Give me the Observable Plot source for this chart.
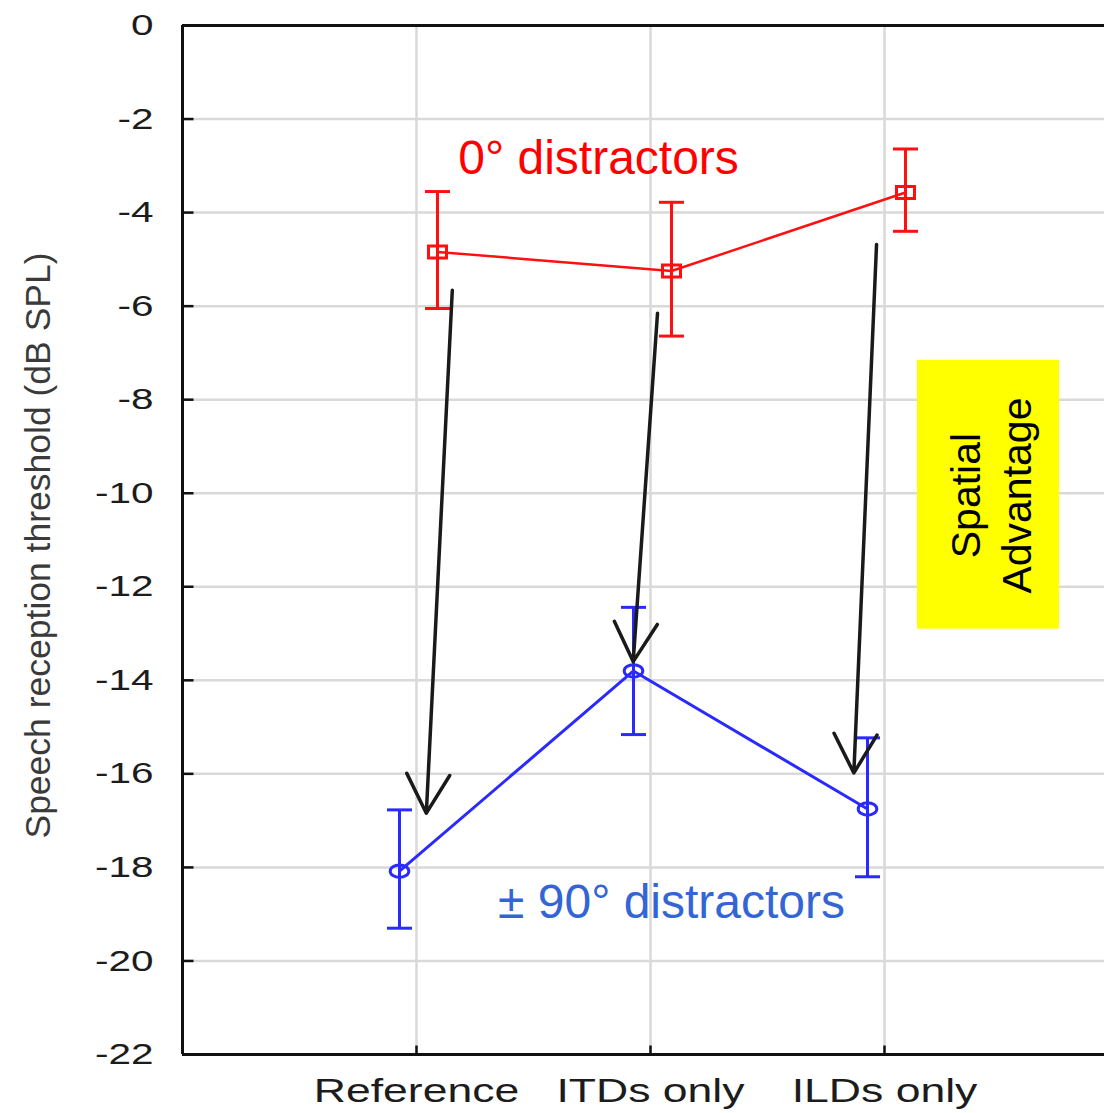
<!DOCTYPE html>
<html>
<head>
<meta charset="utf-8">
<script src="https://cdn.jsdelivr.net/npm/d3@7"></script>
<script src="https://cdn.jsdelivr.net/npm/@observablehq/plot@0.6"></script>
<style>
  html, body { margin: 0; padding: 0; background: #fff; overflow: hidden; }
</style>
</head>
<body>
<div id="chart"></div>
<script>
// ---- data ----
const categories = ["Reference", "ITDs only", "ILDs only"];
const catIndex = [1, 2, 3];

const redMean = [-4.84, -5.25, -3.57];
const redLow  = [-6.05, -6.64, -4.40];
const redHigh = [-3.55, -3.78, -2.64];

const blueMean = [-18.08, -13.80, -16.75];
const blueLow  = [-19.30, -15.16, -18.20];
const blueHigh = [-16.77, -12.44, -15.23];

const yTicks = [0, -2, -4, -6, -8, -10, -12, -14, -16, -18, -20, -22];
const yLabel = "Speech reception threshold (dB SPL)";

const annoText = ["0° distractors", "± 90° distractors"];
const annoX = [1.778, 2.090];
const annoY = [-2.84, -18.76];
const annoColor = ["#ff0000", "#3366d4"];

const boxLabel = "Spatial\nAdvantage";
const boxX1 = [3.141], boxX2 = [3.748], boxY1 = [-7.158], boxY2 = [-12.906];
const boxCX = [3.447], boxCY = [-10.05];

const arrowX1 = [1.153, 2.030, 2.966];
const arrowY1 = [-5.66, -6.15, -4.68];
const arrowX2 = [1.042, 1.926, 2.869];
const arrowY2 = [-16.84, -13.60, -15.98];

// ---- tables ----
const red = catIndex.map((x, i) => ({x, mean: redMean[i], lo: redLow[i], hi: redHigh[i]}));
const blue = catIndex.map((x, i) => ({x, mean: blueMean[i], lo: blueLow[i], hi: blueHigh[i]}));
const annos = annoText.map((t, i) => ({t, x: annoX[i], y: annoY[i], c: annoColor[i]}));
const arrows = arrowX1.map((x1, i) => ({x1, y1: arrowY1[i], x2: arrowX2[i], y2: arrowY2[i]}));
const box = boxX1.map((x1, i) => ({x1, x2: boxX2[i], y1: boxY1[i], y2: boxY2[i], cx: boxCX[i], cy: boxCY[i]}));

// ---- custom symbols ----
const wideSquare = {draw(ctx, size) {
  const k = Math.sqrt(size / Math.PI), hw = 1.5 * k, hh = k;
  ctx.moveTo(-hw, -hh); ctx.lineTo(hw, -hh); ctx.lineTo(hw, hh); ctx.lineTo(-hw, hh); ctx.closePath();
}};
const wideEllipse = {draw(ctx, size) {
  const k = Math.sqrt(size / Math.PI), rx = 1.5 * k, ry = k, c = 0.5523;
  ctx.moveTo(rx, 0);
  ctx.bezierCurveTo(rx, ry * c, rx * c, ry, 0, ry);
  ctx.bezierCurveTo(-rx * c, ry, -rx, ry * c, -rx, 0);
  ctx.bezierCurveTo(-rx, -ry * c, -rx * c, -ry, 0, -ry);
  ctx.bezierCurveTo(rx * c, -ry, rx, -ry * c, rx, 0);
  ctx.closePath();
}};
const hCap = {draw(ctx, size) {
  const k = Math.sqrt(size / Math.PI);
  ctx.moveTo(-k, 0); ctx.lineTo(k, 0);
}};
const tickRight = {draw(ctx, size) {
  const k = Math.sqrt(size / Math.PI);
  ctx.moveTo(0, 0); ctx.lineTo(k, 0);
}};
const tickUp = {draw(ctx, size) {
  const k = Math.sqrt(size / Math.PI);
  ctx.moveTo(0, 0); ctx.lineTo(0, -k);
}};

const RED = "#ff1010", BLUE = "#2a2aff";
const redDx = 21, blueDx = -17;

const chart = Plot.plot({
  width: 1104,
  height: 1113,
  marginLeft: 182,
  marginRight: 0,
  marginTop: 25,
  marginBottom: 59,
  style: {fontFamily: "'Liberation Sans', Arial, sans-serif", background: "#fff"},
  x: {type: "linear", domain: [0, 4], range: [182, 1118]},
  y: {domain: [-22, 0]},
  marks: [
    Plot.gridY(yTicks, {stroke: "#d9d9d9", strokeOpacity: 1, strokeWidth: 2.5}),
    Plot.gridX(catIndex, {stroke: "#d9d9d9", strokeOpacity: 1, strokeWidth: 2.5}),
    Plot.rect(box, {x1: "x1", x2: "x2", y1: "y1", y2: "y2", fill: "#ffff00"}),
    Plot.ruleX([0], {stroke: "#111", strokeWidth: 3}),
    Plot.ruleY([0, -22], {stroke: "#111", strokeWidth: 3}),
    Plot.dot(yTicks, {x: () => 0, y: d => d, symbol: tickRight, r: 11, stroke: "#111", strokeWidth: 2.5, fill: "none"}),
    Plot.dot(catIndex, {x: d => d, y: () => -22, symbol: tickUp, r: 9, stroke: "#111", strokeWidth: 2.5, fill: "none"}),
    Plot.axisY(yTicks, {tickSize: 0, tickPadding: 29, fontSize: 30, fill: "#1c1c1c", stroke: "#1c1c1c", strokeWidth: 0.4, tickFormat: d => String(d), label: null}),
    Plot.axisX(catIndex, {tickSize: 0, tickPadding: 24, fontSize: 33, fill: "#1c1c1c", stroke: "#1c1c1c", strokeWidth: 0.3, tickFormat: d => categories[d - 1], label: null}),
    Plot.text([yLabel], {frameAnchor: "left", textAnchor: "middle", rotate: -90, dx: -143.5, dy: 5.5, fontSize: 35.5, fill: "#3a3a3a", ariaLabel: "ylabel"}),

    // red series (0° distractors)
    Plot.ruleX(red, {x: "x", y1: "lo", y2: "hi", dx: redDx, stroke: RED, strokeWidth: 3}),
    Plot.dot(red, {x: "x", y: "lo", dx: redDx, symbol: hCap, r: 12.5, stroke: RED, strokeWidth: 3, fill: "none"}),
    Plot.dot(red, {x: "x", y: "hi", dx: redDx, symbol: hCap, r: 12.5, stroke: RED, strokeWidth: 3, fill: "none"}),
    Plot.line(red, {x: "x", y: "mean", dx: redDx, stroke: RED, strokeWidth: 2.5}),
    Plot.dot(red, {x: "x", y: "mean", dx: redDx, symbol: wideSquare, r: 6, stroke: RED, strokeWidth: 3, fill: "none"}),

    // blue series (±90° distractors)
    Plot.ruleX(blue, {x: "x", y1: "lo", y2: "hi", dx: blueDx, stroke: BLUE, strokeWidth: 3}),
    Plot.dot(blue, {x: "x", y: "lo", dx: blueDx, symbol: hCap, r: 12.5, stroke: BLUE, strokeWidth: 3, fill: "none"}),
    Plot.dot(blue, {x: "x", y: "hi", dx: blueDx, symbol: hCap, r: 12.5, stroke: BLUE, strokeWidth: 3, fill: "none"}),
    Plot.line(blue, {x: "x", y: "mean", dx: blueDx, stroke: BLUE, strokeWidth: 3}),
    Plot.dot(blue, {x: "x", y: "mean", dx: blueDx, symbol: wideEllipse, r: 6.2, stroke: BLUE, strokeWidth: 3, fill: "none"}),

    // annotations
    Plot.text(annos, {x: "x", y: "y", text: "t", fill: "c", fontSize: 48, ariaLabel: "annotation"}),
    Plot.text(box, {x: "cx", y: "cy", text: () => boxLabel, rotate: -90, fontSize: 41, lineHeight: 1.25, fill: "#000", ariaLabel: "spatial"}),
    Plot.arrow(arrows, {x1: "x1", y1: "y1", x2: "x2", y2: "y2", stroke: "#1a1a1a", strokeWidth: 3.5, headLength: 19, headAngle: 58})
  ]
});

// The original raster is stretched horizontally: widen the chart's own texts to match.
chart.querySelectorAll('g[aria-label="y-axis tick label"] text, g[aria-label="x-axis tick label"] text').forEach(t => {
  t.setAttribute("transform", (t.getAttribute("transform") || "") + " scale(1.35,1)");
});
chart.querySelectorAll('g[aria-label="ylabel"] text').forEach(t => {
  t.setAttribute("transform", (t.getAttribute("transform") || "") + " scale(1,1.35)");
});
chart.querySelectorAll('g[aria-label="spatial"] text').forEach(t => {
  t.setAttribute("transform", (t.getAttribute("transform") || "") + " scale(1,0.85)");
});

document.getElementById("chart").appendChild(chart);
</script>
</body>
</html>
